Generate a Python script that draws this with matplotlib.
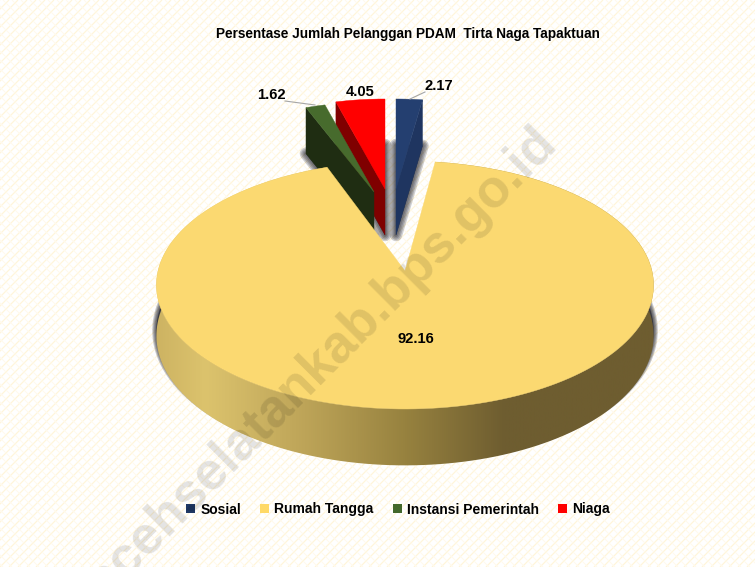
import numpy as np
import matplotlib
matplotlib.use("Agg")
import matplotlib.pyplot as plt
from matplotlib.collections import LineCollection
from matplotlib.colors import LinearSegmentedColormap
from matplotlib.patches import Patch, Polygon

plt.rcParams['font.family'] = ['Liberation Sans']

# data
categories = ["Sosial", "Rumah Tangga", "Instansi Pemerintah", "Niaga"]
values = [2.17, 92.16, 1.62, 4.05]
value_labels = ["2.17", "92.16", "1.62", "4.05"]

TITLE = "Persentase Jumlah Pelanggan PDAM  Tirta Naga Tapaktuan"
WATERMARK = "acehselatankab.bps.go.id"

# colours: top face, cut face
FACE = ["#243F70", "#FBD971", "#476B2D", "#FF0000"]
WALL = ["#1F3560", "#6E5D30", "#1F2D12", "#7F0000"]
LEGEND_COL = ["#1F3864", "#FFD966", "#43682B", "#FF0000"]

# pie layout in pixels: apex of each exploded slice and its projection
APEX = [(396, 189), (405, 271), (374, 192), (385, 189)]
RX = [195, 247, 195, 195]
RY = [90, 122.4, 90, 90]
PERSP = [0, 0.113, 0, 0]
THICK = [46, 50, 46, 46]

fig = plt.figure(figsize=(7.55, 5.67), dpi=100)
ax = fig.add_axes([0, 0, 1, 1])

# angles clockwise from 12 o'clock
edges = np.concatenate([[0], np.cumsum(values)]) / np.sum(values) * 360.0


def arc(i, z=0.0, n=200):
    th = np.radians(np.linspace(edges[i], edges[i + 1], n))
    u, v = np.sin(th), np.cos(th)
    d = 1 + PERSP[i] * v
    x = APEX[i][0] + RX[i] * u / d
    y = APEX[i][1] - RY[i] * v / d + z * THICK[i] / d
    return np.column_stack([x, y])


def apex(i, z=0.0):
    return np.array([[APEX[i][0], APEX[i][1] + z * THICK[i]]])


def shadow(pts, widths=(9, 7, 5, 3, 1), alpha=0.22, z=1):
    for w in widths:
        ax.add_patch(Polygon(pts, closed=True, fc=(0.15, 0.15, 0.18, alpha),
                             ec=(0.15, 0.15, 0.18, alpha), lw=w, zorder=z, joinstyle="round"))


def small_slice(i, wall_edge):
    # wall_edge: 0 = start edge of the slice, -1 = end edge
    top = arc(i)
    bottom = arc(i, 1)
    wall = np.vstack([apex(i), top[[wall_edge]], bottom[[wall_edge]], apex(i, 1)])
    ax.add_patch(Polygon(wall, closed=True, fc=WALL[i], ec=WALL[i], lw=0.3, zorder=3))
    ax.add_patch(Polygon(np.vstack([apex(i), top]), closed=True, fc=FACE[i], ec=FACE[i], lw=0.3, zorder=3))


# background weave
spacing = 9
seg_a = [[(c, 0), (c - 567, 567)] for c in np.arange(0, 1400, spacing)]
seg_b = [[(c, 0), (c + 567, 567)] for c in np.arange(-600, 800, spacing)]
ax.add_collection(LineCollection(seg_a, colors="#FFF5DA", linewidths=0.9, zorder=0))
ax.add_collection(LineCollection(seg_b, colors="#FFFAEC", linewidths=0.7, zorder=0))

# shadows under the slices
for i in [0, 2, 3]:
    shadow(np.vstack([apex(i, 1), arc(i, 1)]))
shadow(np.vstack([apex(1, 1), arc(1, 1)]) + [0, -5], widths=(6, 4.5, 3, 1.5), alpha=0.25)

# small slices, back to front
small_slice(0, -1)
small_slice(3, 0)
small_slice(2, 0)

# outer wall of the big slice with horizontal shading
top_arc = arc(1)
bottom_arc = arc(1, 1)
wall_poly = Polygon(np.vstack([top_arc, bottom_arc[::-1]]), closed=True, fc="none", ec="none")
ax.add_patch(wall_poly)
stops = [(0.0, "#CDB362"), (0.10, "#DCC36D"), (0.30, "#BDA458"),
         (0.50, "#97823F"), (0.70, "#6E5D30"), (1.0, "#6E5D30")]
cmap = LinearSegmentedColormap.from_list("wall", stops)
im = ax.imshow(np.linspace(0, 1, 512).reshape(1, -1), cmap=cmap, aspect="auto",
               extent=(155, 655, 480, 150), zorder=4)
im.set_clip_path(wall_poly)

ax.add_patch(Polygon(np.vstack([apex(1), top_arc]), closed=True, fc=FACE[1], ec=FACE[1], lw=0.3, zorder=5))

ax.set_xlim(0, 755)
ax.set_ylim(567, 0)
ax.axis("off")

# watermark over everything except the text
ax.text(531, 118, WATERMARK, rotation=45, rotation_mode="anchor", ha="right", va="top",
        fontsize=38, fontweight="bold", color="black", alpha=0.11, zorder=6, clip_on=True)

# leader lines
ax.plot([285, 315], [101, 105], color="#A6A6A6", lw=0.8, zorder=7)
ax.plot([410, 425], [99, 92], color="#A6A6A6", lw=0.8, zorder=7)

# value labels
label_pos = [(439, 86), (416, 339), (271, 95), (360, 92)]
for txt, (lx, ly) in zip(value_labels, label_pos):
    ax.text(lx, ly, txt, ha="center", va="center", fontsize=10.6, fontweight="bold", color="black", zorder=8)

ax.text(408, 34, TITLE, ha="center", va="center", fontsize=9.8, fontweight="bold", color="black", zorder=8)

handles = [Patch(fc=c, ec="none") for c in LEGEND_COL]
ax.legend(handles, categories, ncols=4, loc="center", bbox_to_anchor=(398 / 755, 1 - 509.5 / 567),
          frameon=False, prop={"weight": "bold", "size": 10},
          handlelength=0.65, handleheight=0.65, handletextpad=0.35, columnspacing=1.4)

fig.savefig("out.png", dpi=100)
